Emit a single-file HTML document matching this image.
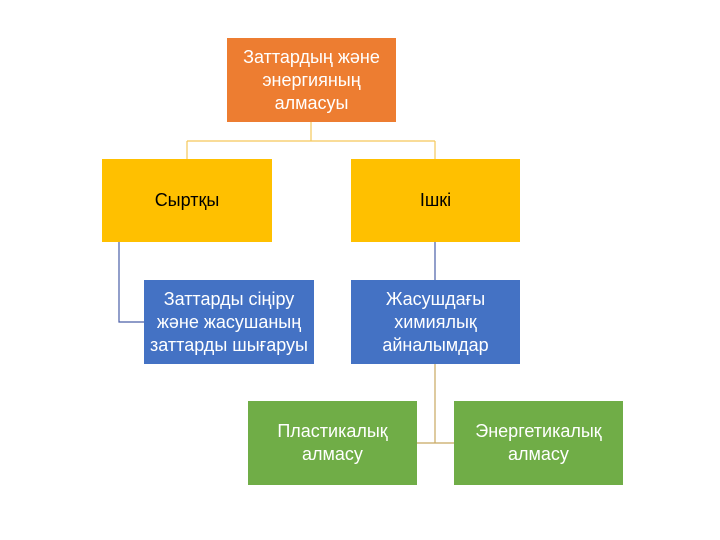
<!DOCTYPE html>
<html><head><meta charset="utf-8"><style>
body{margin:0;width:720px;height:540px;background:#fff;position:relative;overflow:hidden;font-family:"Liberation Sans","DejaVu Sans",sans-serif;}
.b{position:absolute;display:flex;align-items:center;justify-content:center;text-align:center;font-size:18px;line-height:23px;color:#fff;white-space:nowrap;}
.o{background:#ED7D31}.y{background:#FFC000;color:#000}.bl{background:#4472C4}.g{background:#70AD47}
</style></head><body>
<svg width="720" height="540" style="position:absolute;left:0;top:0">
<g fill="none" stroke-width="1.2">
<path d="M311 122V141M187 141H435M187 141V159M435 141V159" stroke="#F5C85A"/>
<path d="M119 242V322H144M435 242V280" stroke="#4A5FA8"/>
<path d="M435 364V443M417 443H454" stroke="#C8A860"/>
</g></svg>
<div class="b o" style="left:227px;top:38px;width:169px;height:84px">Заттардың және<br>энергияның<br>алмасуы</div>
<div class="b y" style="left:102px;top:159px;width:170px;height:83px">Сыртқы</div>
<div class="b y" style="left:351px;top:159px;width:169px;height:83px">Ішкі</div>
<div class="b bl" style="left:144px;top:280px;width:170px;height:84px">Заттарды сіңіру<br>және жасушаның<br>заттарды шығаруы</div>
<div class="b bl" style="left:351px;top:280px;width:169px;height:84px">Жасушдағы<br>химиялық<br>айналымдар</div>
<div class="b g" style="left:248px;top:401px;width:169px;height:84px">Пластикалық<br>алмасу</div>
<div class="b g" style="left:454px;top:401px;width:169px;height:84px">Энергетикалық<br>алмасу</div>
</body></html>
